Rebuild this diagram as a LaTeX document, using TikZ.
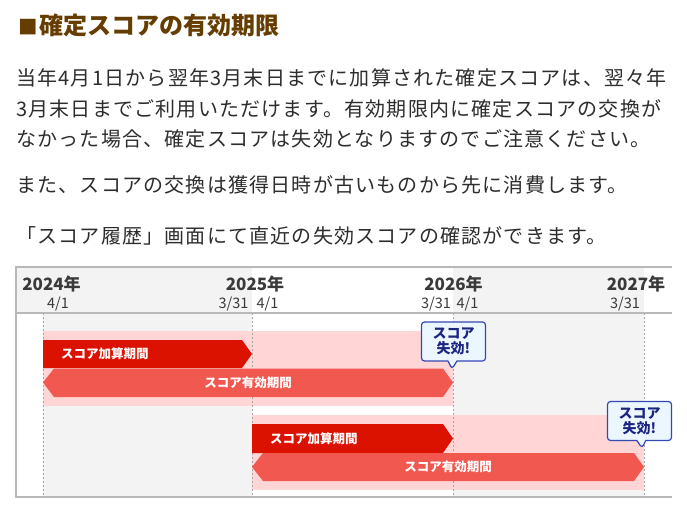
\documentclass[tikz,border=0pt]{standalone}
\usepackage{fontspec}
\setmainfont{Noto Sans CJK JP}
\newfontfamily\bodyfont{Noto Sans CJK JP}[LetterSpace=6]
\usepackage{xcolor}
\usepackage{tikz}
\usetikzlibrary{shapes.callouts}

\definecolor{titlebrown}{RGB}{102,61,0}
\definecolor{textgray}{RGB}{45,45,45}
\definecolor{headgray}{RGB}{58,58,58}
\definecolor{framegray}{RGB}{184,184,184}
\definecolor{colgray}{RGB}{243,243,243}
\definecolor{bandpink}{RGB}{255,213,213}
\definecolor{addred}{RGB}{220,18,0}
\definecolor{validred}{RGB}{240,88,80}
\definecolor{tipblue}{RGB}{52,72,180}
\definecolor{tipfill}{RGB}{236,246,255}
\definecolor{tipnavy}{RGB}{28,36,130}

\begin{document}
\begin{tikzpicture}[
    x=1pt, y=-1pt,
    heading/.style={anchor=base west, inner sep=0pt, text=titlebrown, font=\bfseries\fontsize{24}{28}\selectfont},
    bodyline/.style={anchor=west, inner sep=0pt, text=textgray, font=\bodyfont\fontsize{20}{24}\selectfont},
    year/.style={inner sep=0pt, text=headgray, font=\bfseries\fontsize{17}{20}\selectfont},
    date/.style={inner sep=0pt, text=headgray, font=\fontsize{14.5}{16}\selectfont},
    barlabel/.style={inner sep=0pt, text=white, font=\bfseries\fontsize{12.5}{14}\selectfont},
    frame/.style={draw=framegray, line width=1.8pt},
    dashline/.style={draw=gray!70, line width=0.8pt, dash pattern=on 2pt off 2pt},
    expiry/.style={rectangle callout, draw=tipblue, fill=tipfill, line width=1.2pt, rounded corners=3pt,
        minimum width=64pt, minimum height=39pt, inner sep=0pt, callout pointer width=9pt,
        align=center, text=tipnavy, font=\bfseries\fontsize{14}{15}\selectfont}
]
\useasboundingbox (0,0) rectangle (687,518);
\fill[white] (0,0) rectangle (687,518);

% Title and text
\node[heading] (title) at (18,35) {{\fontsize{19.5}{19.5}\selectfont ■}\hspace{1.5pt}確定スコアの有効期限};
\node[bodyline] (line1) at (16,78) {当年4月1日から翌年3月末日までに加算された確定スコアは、翌々年};
\node[bodyline] (line2) at (16,108.5) {3月末日までご利用いただけます。有効期限内に確定スコアの交換が};
\node[bodyline] (line3) at (16,139) {なかった場合、確定スコアは失効となりますのでご注意ください。};
\node[bodyline] (line4) at (16,184.5) {また、スコアの交換は獲得日時が古いものから先に消費します。};
\node[bodyline] (line5) at (16,236) {「スコア履歴」画面にて直近の失効スコアの確認ができます。};

% Chart background
\fill[colgray] (17,268) rectangle (252,312);
\fill[colgray] (453,268) rectangle (644,312);
\fill[colgray] (43,313) rectangle (252,497);
\fill[colgray] (453,313) rectangle (644,497);
\fill[bandpink] (43,331) rectangle (453,406);
\fill[bandpink] (252,415) rectangle (644,490);
\foreach \x in {43,252,453,644}
    \draw[dashline] (\x,313) -- (\x,497);
\draw[frame] (672,267) -- (16,267) -- (16,497) -- (672,497);
\draw[frame] (16,313) -- (672,313);

% Header
\node[year] (y2024) at (51.5,284.5) {2024年};
\node[year] (y2025) at (255,284.5) {2025年};
\node[year] (y2026) at (453.5,284.5) {2026年};
\node[year] (y2027) at (636,284.5) {2027年};
\node[date] (start24) at (58,304) {4/1};
\node[date] (end25) at (233.5,304) {3/31};
\node[date] (start25) at (267.5,304) {4/1};
\node[date] (end26) at (436,304) {3/31};
\node[date] (start26) at (467.5,304) {4/1};
\node[date] (end27) at (625,304) {3/31};

% Bars, first year
\fill[addred] (43,340) -- (242,340) -- (252,354) -- (242,368) -- (43,368) -- cycle;
\fill[validred] (54,368.5) -- (443,368.5) -- (453,382.5) -- (443,397) -- (54,397) -- (43,382.5) -- cycle;
\node[barlabel, anchor=west] (add1) at (61,354) {スコア加算期間};
\node[barlabel] (valid1) at (248,382.5) {スコア有効期間};

% Bars, second year
\fill[addred] (252,424) -- (443,424) -- (453,438.5) -- (443,453) -- (252,453) -- cycle;
\fill[validred] (263,453) -- (634,453) -- (644,467) -- (634,481) -- (263,481) -- (252,467) -- cycle;
\node[barlabel, anchor=west] (add2) at (270,438.5) {スコア加算期間};
\node[barlabel] (valid2) at (448,467) {スコア有効期間};

% Callouts
\node[expiry, callout absolute pointer={(452,369)}] (lapse1) at (453.5,341.5) {スコア\\失効!};
\node[expiry, callout absolute pointer={(642,448)}] (lapse2) at (639.5,421) {スコア\\失効!};

\end{tikzpicture}
\end{document}
